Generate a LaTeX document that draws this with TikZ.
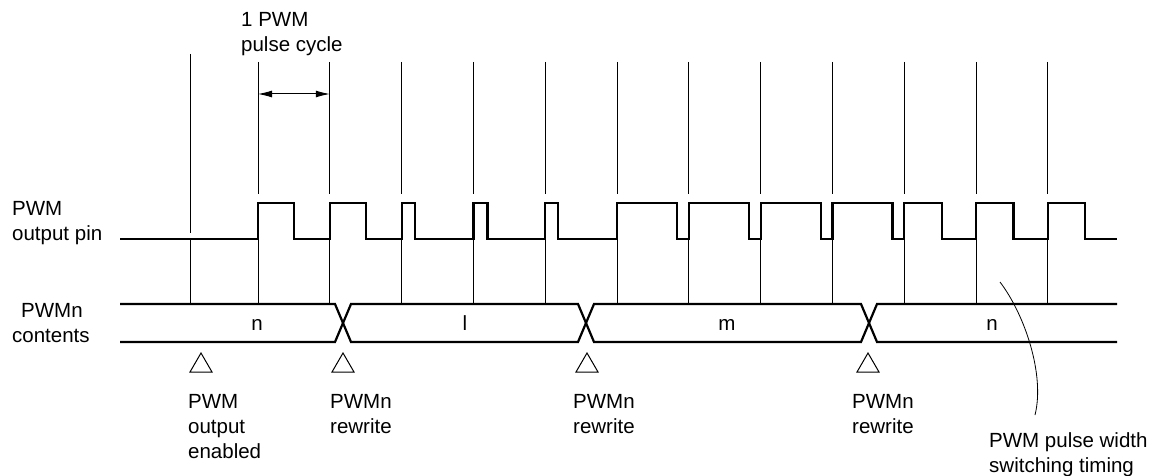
\documentclass[tikz,border=0pt]{standalone}
\usepackage{fontspec}
\setmainfont{Liberation Sans}
\usetikzlibrary{arrows.meta}

\tikzset{
  lbl/.style={inner sep=0pt, align=left, anchor=base west, font=\fontsize{20.5}{25}\selectfont},
  val/.style={inner sep=0pt, anchor=base, font=\fontsize{20.5}{25}\selectfont},
  tick/.style={line width=1pt},
  wave/.style={line width=2.2pt},
  bus/.style={line width=2.2pt},
  dim/.style={line width=1pt, {Latex[length=14pt,width=7pt]}-{Latex[length=14pt,width=7pt]}}
}

\begin{document}
\begin{tikzpicture}[x=1pt,y=-1pt]
  \useasboundingbox (0,0) rectangle (1159,476);
  \draw[tick] (190,54) -- (190,233) (190,239) -- (190,304);
  \foreach \x in {258,329.8,...,1048}
    \draw[tick] (\x,62) -- (\x,194) (\x,239) -- (\x,304);
  \draw[wave] (120,239)
    \foreach \x/\w in {258/36,329.8/36,401.6/13,473.4/14,545.2/13,617/60,688.8/60,
                       760.6/60,832.4/60,904.2/37.5,976/37.5,1047.8/37.5}
      { -- (\x,239) -- (\x,203) -- (\x+\w,203) -- (\x+\w,239) }
    -- (1117,239);
  \draw[bus] (120,304) -- (335,304) -- (351,342) -- (578,342) -- (594,304)
    -- (861,304) -- (877,342) -- (1117,342);
  \draw[bus] (120,342) -- (335,342) -- (351,304) -- (578,304) -- (594,342)
    -- (861,342) -- (877,304) -- (1117,304);
  \foreach \x in {201,343,587,868}
    \draw[tick] (\x-11,372) -- (\x,353) -- (\x+11,372) -- cycle;
  \node[val] (vn1) at (257,330) {n};
  \node[val] (vl) at (465,330) {l};
  \node[val] (vm) at (727,330) {m};
  \node[val] (vn2) at (992,330) {n};
  \node[lbl] (pin) at (12,240) {PWM\\output pin};
  \node[lbl] (reg) at (21,317) {PWMn};
  \node[lbl] (regb) at (12,342) {contents};
  \node[lbl] (cyc) at (241,52) {1 PWM\\pulse cycle};
  \node[lbl] (en) at (188,458) {PWM\\output\\enabled};
  \node[lbl] (rw1) at (330,433) {PWMn\\rewrite};
  \node[lbl] (rw2) at (573,433) {PWMn\\rewrite};
  \node[lbl] (rw3) at (852,433) {PWMn\\rewrite};
  \node[lbl] (swt) at (989,472) {PWM pulse width\\switching timing};
  \coordinate (a1) at (258,94);
  \coordinate (a2) at (329.8,94);
  \draw[dim] (a1) -- (a2);
  \coordinate (s0) at (1000,282);
  \coordinate (s1) at (1035,415);
  \draw[line width=0.8pt] (s0) .. controls (1025,315) and (1045,375) .. (s1);
\end{tikzpicture}
\end{document}
